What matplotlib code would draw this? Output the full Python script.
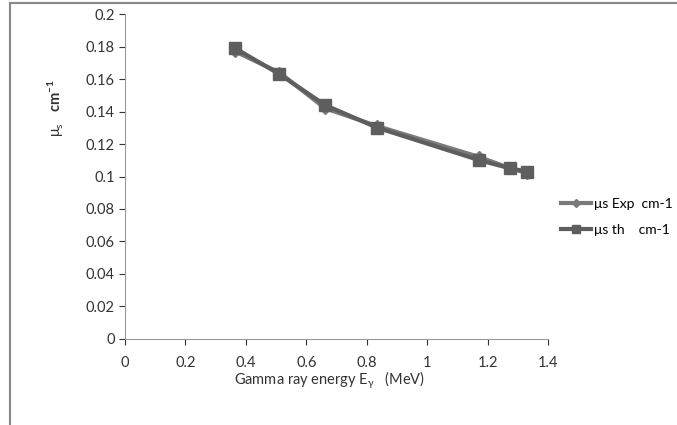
import matplotlib.pyplot as plt
from matplotlib.lines import Line2D

# gamma ray energies (MeV)
energy = [0.364, 0.511, 0.662, 0.835, 1.173, 1.275, 1.332]
mu_exp = [0.177, 0.164, 0.142, 0.131, 0.112, 0.105, 0.102]
mu_th = [0.179, 0.163, 0.144, 0.130, 0.110, 0.105, 0.103]

xticks = [0, 0.2, 0.4, 0.6, 0.8, 1, 1.2, 1.4]
xticklabels = ['0', '0.2', '0.4', '0.6', '0.8', '1', '1.2', '1.4']
yticks = [0, 0.02, 0.04, 0.06, 0.08, 0.1, 0.12, 0.14, 0.16, 0.18, 0.2]
yticklabels = ['0', '0.02', '0.04', '0.06', '0.08', '0.1', '0.12', '0.14', '0.16', '0.18', '0.2']

plt.rcParams['font.family'] = ['Lato', 'DejaVu Sans']
plt.rcParams['mathtext.fontset'] = 'custom'
plt.rcParams['mathtext.rm'] = 'Lato'
plt.rcParams['mathtext.bf'] = 'Lato:bold'
fig = plt.figure(figsize=(6.77, 4.25), dpi=100)
ax = fig.add_axes([0.1846, 0.2024, 0.6249, 0.7646])

ax.plot(energy, mu_exp, color='#7a7a7a', lw=3, marker='D', ms=6, label='\u03bcs Exp  cm-1')
ax.plot(energy, mu_th, color='#5e5e5e', lw=3, marker='s', ms=8, label='\u03bcs th    cm-1')

ax.set_xlim(0, 1.4)
ax.set_ylim(0, 0.2)
ax.set_xticks(xticks)
ax.set_xticklabels(xticklabels)
ax.set_yticks(yticks)
ax.set_yticklabels(yticklabels)
ax.tick_params(labelsize=10.5, colors='#333333', length=4, width=0.8)
ax.tick_params(axis='x', pad=8)
for s in ['top', 'right']:
    ax.spines[s].set_visible(False)
for s in ['left', 'bottom']:
    ax.spines[s].set_color('#999999')

ax.legend(loc='center left', bbox_to_anchor=(1.0, 0.375), frameon=False,
          fontsize=10, handlelength=2.2, handletextpad=0.2, labelspacing=1.0,
          markerscale=0.75)

fig.text(0.487, 0.105, 'Gamma ray energy E$_\\mathrm{\u03b3}$   (MeV)', ha='center', va='center',
         fontsize=10.5, color='#333333')
fig.text(0.082, 0.745, '$\\mathrm{\u03bc}_\\mathrm{s}$   $\\mathbf{cm^{-1}}$', rotation=90,
         ha='center', va='center', fontsize=10.5, color='#333333')

# outer frame lines (top and left only)
fig.add_artist(Line2D([0.0148, 1.0], [0.993, 0.993], transform=fig.transFigure, color='#888888', lw=1.5))
fig.add_artist(Line2D([0.0148, 0.0148], [0.0, 0.993], transform=fig.transFigure, color='#888888', lw=1.5))

plt.savefig('out.png')
